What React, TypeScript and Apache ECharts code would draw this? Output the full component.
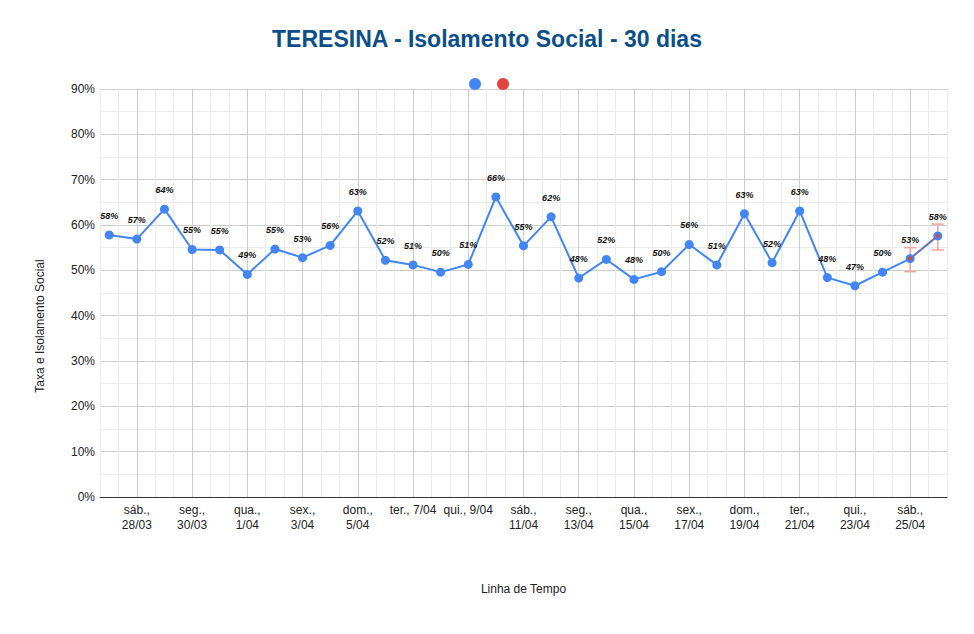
import { useEffect, useRef } from 'react';
import * as echarts from 'echarts';

const days = [
  '27/03', '28/03', '29/03', '30/03', '31/03', '01/04', '02/04', '03/04', '04/04', '05/04',
  '06/04', '07/04', '08/04', '09/04', '10/04', '11/04', '12/04', '13/04', '14/04', '15/04',
  '16/04', '17/04', '18/04', '19/04', '20/04', '21/04', '22/04', '23/04', '24/04', '25/04', '26/04',
];
const isolation = [
  57.8, 56.9, 63.5, 54.6, 54.5, 49.1, 54.7, 52.8, 55.5, 63.1,
  52.2, 51.2, 49.6, 51.3, 66.2, 55.4, 61.8, 48.3, 52.4, 48.0,
  49.7, 55.7, 51.2, 62.5, 51.7, 63.1, 48.4, 46.6, 49.6, 52.6, 57.6,
];
const tickLabels = [
  'sáb.,\n28/03', 'seg.,\n30/03', 'qua.,\n1/04', 'sex.,\n3/04', 'dom.,\n5/04',
  'ter., 7/04', 'qui., 9/04', 'sáb.,\n11/04', 'seg.,\n13/04', 'qua.,\n15/04',
  'sex.,\n17/04', 'dom.,\n19/04', 'ter.,\n21/04', 'qui.,\n23/04', 'sáb.,\n25/04',
];
const yTicks = [0, 10, 20, 30, 40, 50, 60, 70, 80, 90];
// last two days, drawn again in red with their error bars
const projection = [52.6, 57.6];
const errorLow = [49.7, 54.5];
const errorHigh = [55.0, 60.2];

// one day = 3 axis units, so minor grid lines fall every 2 units and majors every 6
const toX = (i: number) => 3 * i + 1;
const FONT = '"Liberation Sans", Arial, sans-serif';
const MINOR = '#ebebeb';
const MAJOR = '#cccccc';

export default function App() {
  const chartRef = useRef<HTMLDivElement | null>(null);

  useEffect(() => {
    if (!chartRef.current) return;
    const chart = echarts.init(chartRef.current, undefined, { renderer: 'svg' });
    const projStart = days.length - projection.length;

    chart.setOption({
      animation: false,
      backgroundColor: '#ffffff',
      textStyle: { fontFamily: FONT },
      title: {
        text: 'TERESINA - Isolamento Social - 30 dias',
        left: 'center',
        top: 22,
        textStyle: { fontFamily: FONT, fontSize: 23, fontWeight: 'bold', color: '#0b4f8a' },
      },
      legend: {
        data: ['Isolamento', 'Projeção'],
        icon: 'circle',
        itemWidth: 12,
        itemHeight: 12,
        itemGap: 16,
        left: 464,
        top: 73,
        formatter: () => '',
      },
      grid: { left: 100, right: 27, top: 89, bottom: 137 },
      xAxis: {
        type: 'value',
        min: 0,
        max: 92,
        interval: 2,
        name: 'Linha de Tempo',
        nameLocation: 'middle',
        nameGap: 86,
        nameTextStyle: { fontFamily: FONT, fontSize: 12, color: '#222' },
        axisLine: { show: true, lineStyle: { color: '#333', width: 1 } },
        axisTick: { show: false },
        axisLabel: {
          fontFamily: FONT,
          fontSize: 12,
          color: '#222',
          margin: 5,
          lineHeight: 15,
          formatter: (v: number) => ((v - 4) % 6 === 0 && v >= 4 ? tickLabels[(v - 4) / 6] ?? '' : ''),
        },
        splitLine: { show: true, lineStyle: { color: [MINOR, MINOR, MAJOR], width: 1 } },
      },
      yAxis: {
        type: 'value',
        min: yTicks[0],
        max: yTicks[yTicks.length - 1],
        interval: 10,
        axisLine: { show: false },
        axisTick: { show: false },
        axisLabel: { fontFamily: FONT, fontSize: 12, color: '#222', margin: 5, formatter: '{value}%' },
        splitLine: { lineStyle: { color: MAJOR, width: 1 } },
        minorTick: { show: false, splitNumber: 2 },
        minorSplitLine: { show: true, lineStyle: { color: MINOR, width: 1 } },
      },
      graphic: [
        {
          type: 'text',
          x: 40,
          y: 326,
          rotation: Math.PI / 2,
          style: {
            text: 'Taxa e Isolamento Social',
            fontFamily: FONT,
            fontSize: 12,
            fill: '#222',
            align: 'center',
            verticalAlign: 'middle',
          },
        },
      ],
      series: [
        {
          type: 'custom',
          name: 'Erro',
          z: 1,
          silent: true,
          data: projection.map((_, k) => [toX(projStart + k), errorLow[k], errorHigh[k]]),
          encode: { x: 0, y: [1, 2] },
          renderItem: (_params: unknown, api: any) => {
            const x = api.value(0);
            const top = api.coord([x, api.value(2)]);
            const bot = api.coord([x, api.value(1)]);
            const w = 6;
            const style = { stroke: '#f0a49b', lineWidth: 1.5 };
            return {
              type: 'group',
              children: [
                { type: 'line', shape: { x1: top[0], y1: top[1], x2: bot[0], y2: bot[1] }, style },
                { type: 'line', shape: { x1: top[0] - w, y1: top[1], x2: top[0] + w, y2: top[1] }, style },
                { type: 'line', shape: { x1: bot[0] - w, y1: bot[1], x2: bot[0] + w, y2: bot[1] }, style },
              ],
            };
          },
        },
        {
          type: 'line',
          name: 'Isolamento',
          z: 2,
          data: isolation.map((v, i) => [toX(i), v]),
          symbol: 'circle',
          symbolSize: 9,
          itemStyle: { color: '#4285f4' },
          lineStyle: { color: '#4285f4', width: 2 },
          label: {
            show: true,
            position: 'top',
            distance: 10,
            fontFamily: FONT,
            fontSize: 9,
            fontWeight: 'bold',
            fontStyle: 'italic',
            color: '#111',
            formatter: (p: any) => `${Math.round(p.value[1])}%`,
          },
        },
        {
          type: 'line',
          name: 'Projeção',
          z: 3,
          data: projection.map((v, k) => [toX(projStart + k), v]),
          symbol: 'circle',
          symbolSize: 4,
          itemStyle: { color: '#e0443a' },
          lineStyle: { color: '#e0443a', width: 1.5, type: [3, 2], opacity: 0.6 },
        },
      ],
    });

    return () => chart.dispose();
  }, []);

  return (
    <div
      ref={chartRef}
      style={{ position: 'absolute', left: 0, top: 0, width: 974, height: 634, background: '#fff' }}
    />
  );
}
